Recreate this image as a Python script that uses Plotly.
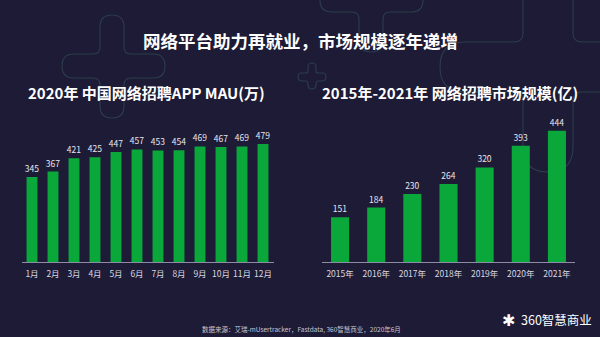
import plotly.graph_objects as go

months = ["1月", "2月", "3月", "4月", "5月", "6月", "7月", "8月", "9月", "10月", "11月", "12月"]
mau = [345, 367, 421, 425, 447, 457, 453, 454, 469, 467, 469, 479]

years = ["2015年", "2016年", "2017年", "2018年", "2019年", "2020年", "2021年"]
market = [151, 184, 230, 264, 320, 393, 444]

title = "网络平台助力再就业，市场规模逐年递增"
sub_left = "2020年 中国网络招聘APP MAU(万)"
sub_right = "2015年-2021年 网络招聘市场规模(亿)"
source = "数据来源：艾瑞-mUsertracker，Fastdata, 360智慧商业，2020年6月"
logo = "360智慧商业"

W, H = 600, 337
BG = "#1d1b36"
GREEN = "#0aa73b"
FONT = "Noto Sans CJK SC"

def px(x, y):
    return f"{x / W:.5f},{1 - y / H:.5f}"

def plus_path(cx, cy, w, lu, ld, ll, lr, r):
    p = []
    p.append("M" + px(cx - w, cy - w - r))
    p.append("L" + px(cx - w, cy - lu + w))
    p.append("Q" + px(cx - w, cy - lu) + " " + px(cx, cy - lu))
    p.append("Q" + px(cx + w, cy - lu) + " " + px(cx + w, cy - lu + w))
    p.append("L" + px(cx + w, cy - w - r))
    p.append("Q" + px(cx + w, cy - w) + " " + px(cx + w + r, cy - w))
    p.append("L" + px(cx + lr - w, cy - w))
    p.append("Q" + px(cx + lr, cy - w) + " " + px(cx + lr, cy))
    p.append("Q" + px(cx + lr, cy + w) + " " + px(cx + lr - w, cy + w))
    p.append("L" + px(cx + w + r, cy + w))
    p.append("Q" + px(cx + w, cy + w) + " " + px(cx + w, cy + w + r))
    p.append("L" + px(cx + w, cy + ld - w))
    p.append("Q" + px(cx + w, cy + ld) + " " + px(cx, cy + ld))
    p.append("Q" + px(cx - w, cy + ld) + " " + px(cx - w, cy + ld - w))
    p.append("L" + px(cx - w, cy + w + r))
    p.append("Q" + px(cx - w, cy + w) + " " + px(cx - w - r, cy + w))
    p.append("L" + px(cx - ll + w, cy + w))
    p.append("Q" + px(cx - ll, cy + w) + " " + px(cx - ll, cy))
    p.append("Q" + px(cx - ll, cy - w) + " " + px(cx - ll + w, cy - w))
    p.append("L" + px(cx - w - r, cy - w))
    p.append("Q" + px(cx - w, cy - w) + " " + px(cx - w, cy - w - r))
    p.append("Z")
    return " ".join(p)

deco_color = "rgba(60,95,95,0.5)"
shapes = []
for args in [
    (112, 66, 12, 51, 52, 50, 53, 7),
    (312, 77, 4, 14, 12, 14, 14, 2),
    (371, 0, 12, 52, 52, 51, 52, 7),
    (548, 67, 25, 120, 105, 108, 120, 9),
]:
    shapes.append(dict(type="path", xref="paper", yref="paper", path=plus_path(*args),
                       line=dict(color=deco_color, width=1.1), layer="below"))

fig = go.Figure()
fig.add_trace(go.Bar(x=months, y=mau, text=mau, textposition="outside",
                     constraintext="none",
                     marker=dict(color=GREEN, line=dict(width=0)),
                     textfont=dict(size=8.5, color="#e6e6ee", family=FONT),
                     cliponaxis=False, xaxis="x", yaxis="y", width=0.52))
fig.add_trace(go.Bar(x=years, y=market, text=market, textposition="outside",
                     constraintext="none",
                     marker=dict(color=GREEN, line=dict(width=0)),
                     textfont=dict(size=8.5, color="#e6e6ee", family=FONT),
                     cliponaxis=False, xaxis="x2", yaxis="y2", width=0.5))

ydom = [1 - 262 / H, 1 - 114.2 / H]
axis_common = dict(type="category", showgrid=False, zeroline=False, showline=True,
                   linecolor="#8c8ca6", linewidth=1, ticks="", tickangle=0,
                   ticklabelstandoff=4,
                   tickfont=dict(size=8.5, color="#d8d8e2", family=FONT))
fig.update_layout(
    width=W, height=H,
    margin=dict(l=0, r=0, t=0, b=0),
    paper_bgcolor=BG, plot_bgcolor="rgba(0,0,0,0)",
    showlegend=False,
    xaxis=dict(domain=[21.5 / W, 273.5 / W], anchor="y", range=[-0.5, 11.5], **axis_common),
    yaxis=dict(domain=ydom, anchor="x", range=[0, 600], visible=False),
    xaxis2=dict(domain=[322 / W, 575 / W], anchor="y2", range=[-0.5, 6.5], **axis_common),
    yaxis2=dict(domain=ydom, anchor="x2", range=[0, 500], visible=False),
    shapes=shapes,
)

def ann(text, x, y, size, color="#ffffff", bold=False, xanchor="center"):
    t = f"<b>{text}</b>" if bold else text
    fig.add_annotation(text=t, x=x / W, y=1 - y / H, xref="paper", yref="paper",
                       showarrow=False, xanchor=xanchor, yanchor="middle",
                       font=dict(size=size, color=color, family=FONT))

ann(title, 300, 40, 17.5, bold=True)
ann(sub_left, 146, 92, 15, bold=True)
ann(sub_right, 450, 92, 15, bold=True)
ann(source, 200, 329, 6.5, color="#c8c8d4", xanchor="left")
ann(logo, 519, 319, 12.5, color="#ffffff", xanchor="left")
ann("✱", 508, 319, 16, color="#ffffff")

fig.write_html("out.html")
